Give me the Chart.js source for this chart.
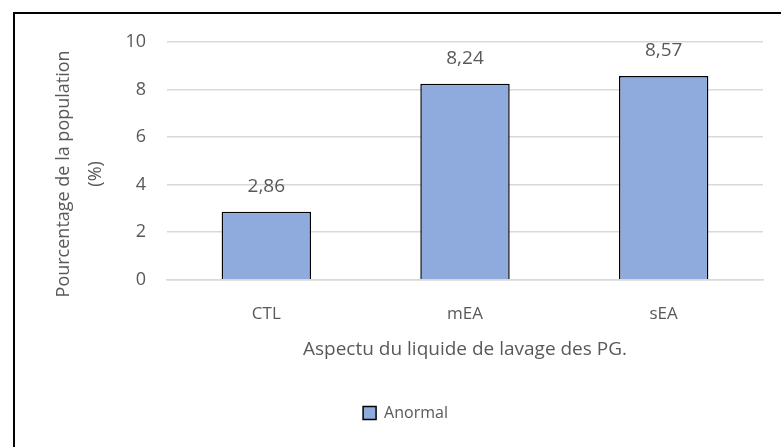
<!DOCTYPE html>
<html>
<head>
<meta charset="utf-8">
<script src="https://cdn.jsdelivr.net/npm/chart.js@4"></script>
<style>
  html, body { margin: 0; padding: 0; background: #fff; }
  #wrap { position: relative; width: 781px; height: 447px; overflow: hidden; }
  #frame { position: absolute; left: 13px; top: 12px; width: 800px; height: 500px;
           border-left: 2px solid #000; border-top: 2px solid #000; pointer-events: none; }
  canvas { position: absolute; left: 0; top: 0; }
</style>
</head>
<body>
<div id="wrap">
  <canvas id="chart" width="781" height="447"></canvas>
  <div id="frame"></div>
</div>
<script>
// data
const categories = ['CTL', 'mEA', 'sEA'];
const anormalValues = [2.86, 8.24, 8.57];
const yTicks = [0, 2, 4, 6, 8, 10];
const yTitleLines = ['Pourcentage de la population', '(%)'];

const TEXT = '#595959';
const FONT = "'Open Sans', 'Liberation Sans', sans-serif";

// value labels above the bars, french decimal comma
const valueLabels = {
    id: 'valueLabels',
    afterDatasetsDraw(chart) {
        const { ctx } = chart;
        const meta = chart.getDatasetMeta(0);
        ctx.save();
        ctx.fillStyle = TEXT;
        ctx.font = '19px ' + FONT;
        ctx.textAlign = 'center';
        ctx.textBaseline = 'middle';
        meta.data.forEach((bar, i) => {
            const txt = anormalValues[i].toFixed(2).replace('.', ',');
            ctx.fillText(txt, bar.x, bar.y - 25);
        });
        ctx.restore();
    }
};

// rotated y title, two lines, sits a bit lower than the plot centre like in Excel
const yTitle = {
    id: 'yTitle',
    afterDraw(chart) {
        const { ctx, chartArea } = chart;
        const cy = (chartArea.top + chartArea.bottom) / 2 + 13;
        ctx.save();
        ctx.fillStyle = TEXT;
        ctx.font = '18px ' + FONT;
        ctx.textAlign = 'center';
        ctx.textBaseline = 'middle';
        const xs = [64, 96];
        yTitleLines.forEach((line, i) => {
            ctx.save();
            ctx.translate(xs[i], cy);
            ctx.rotate(-Math.PI / 2);
            ctx.fillText(line, 0, 0);
            ctx.restore();
        });
        ctx.restore();
    }
};

new Chart(document.getElementById('chart'), {
    type: 'bar',
    data: {
        labels: categories,
        datasets: [{
            label: 'Anormal',
            data: anormalValues,
            backgroundColor: '#8faadc',
            borderColor: '#000000',
            borderWidth: 1.5,
            categoryPercentage: 0.9,
            barPercentage: 0.5
        }]
    },
    options: {
        responsive: false,
        animation: false,
        layout: { padding: { left: 48, right: 18, top: 42, bottom: 16 } },
        plugins: {
            legend: {
                position: 'bottom',
                labels: {
                    color: TEXT,
                    font: { family: FONT, size: 16 },
                    boxWidth: 13,
                    boxHeight: 13,
                    padding: 10,
                    generateLabels(chart) {
                        return [{
                            text: 'Anormal',
                            fillStyle: '#8faadc',
                            strokeStyle: '#000',
                            lineWidth: 1.5,
                            fontColor: TEXT,
                            datasetIndex: 0
                        }];
                    }
                }
            },
            tooltip: { enabled: false }
        },
        scales: {
            y: {
                min: 0,
                max: 10,
                afterBuildTicks(axis) {
                    axis.ticks = yTicks.map(v => ({ value: v }));
                },
                afterFit(axis) { axis.width = 119; },
                grid: { color: '#d9d9d9', lineWidth: 1.5, drawTicks: false },
                border: { display: false },
                ticks: { color: TEXT, font: { family: FONT, size: 18 }, padding: 21 }
            },
            x: {
                grid: { display: false, drawTicks: false },
                border: { display: true, color: '#d9d9d9', width: 1.5 },
                ticks: { color: TEXT, font: { family: FONT, size: 17 }, padding: 24 },
                title: {
                    display: true,
                    text: 'Aspectu du liquide de lavage des PG.',
                    color: TEXT,
                    font: { family: FONT, size: 19 },
                    padding: { top: -10, bottom: 34 }
                }
            }
        }
    },
    plugins: [valueLabels, yTitle]
});
</script>
</body>
</html>
